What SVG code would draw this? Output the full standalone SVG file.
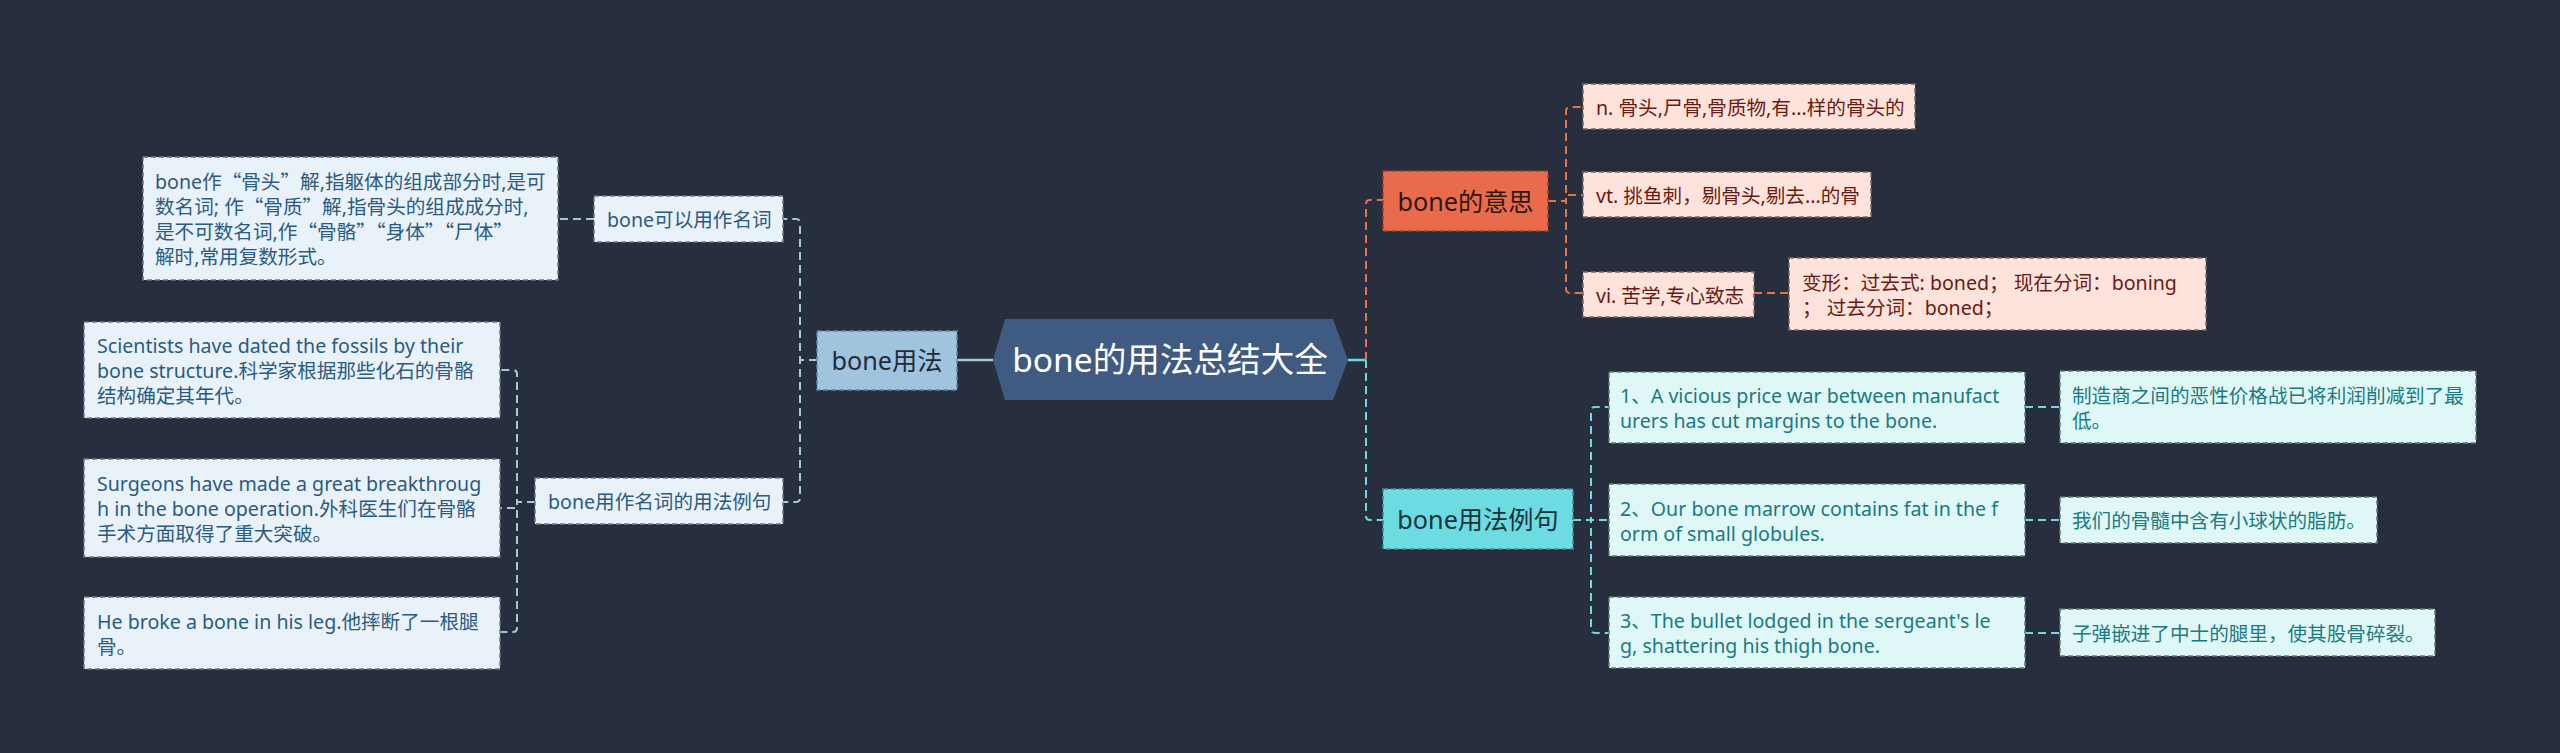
<svg xmlns="http://www.w3.org/2000/svg" width="2560" height="753" viewBox="0 0 2560 753">
<style>
text{font-family:"Noto Sans","Noto Sans CJK SC",sans-serif}
.cj{font-family:"Noto Sans CJK SC",sans-serif}
.c{fill:none;stroke-width:2;stroke-dasharray:8 5}
.s{fill:none;stroke-width:2.5}
.co{stroke:#e8714f}
.cc{stroke:#6fd8e0}
.cb{stroke:#a9c6dc}
.bx{stroke-width:1.5;stroke-dasharray:5 3}
.f20{font-size:19.6px}
.f25{font-size:25.2px}
.red{fill:#fde3dc;stroke:#7d6a66}
.redt{fill:#6a1a10}
.cyn{fill:#e0f7f7;stroke:#5f7a7c}
.cynt{fill:#1b7a7f}
.blu{fill:#e9f2f8;stroke:#6c7a86}
.blut{fill:#2b5a82}
</style>
<rect width="2560" height="753" fill="#272f3e"/>

<g id="connectors">
  <path class="s cc" d="M1348 360 H1366"/>
  <path class="c co" d="M1366 360 V204 Q1366 200 1370 200 H1383"/>
  <path class="c cc" d="M1366 360 V516 Q1366 520 1370 520 H1383"/>
  <path class="s cb" d="M957 360 H993"/>
  <path class="c co" d="M1548 201 H1566 V111 Q1566 107 1570 107 H1583"/>
  <path class="c co" d="M1548 201 H1566 V195 H1583"/>
  <path class="c co" d="M1548 201 H1566 V289 Q1566 293 1570 293 H1583"/>
  <path class="c co" d="M1754 293 H1789"/>
  <path class="c cc" d="M1573 520 H1591 V411 Q1591 407 1595 407 H1609"/>
  <path class="c cc" d="M1573 520 H1609"/>
  <path class="c cc" d="M1573 520 H1591 V629 Q1591 633 1595 633 H1609"/>
  <path class="c cc" d="M2025 407 H2060"/>
  <path class="c cc" d="M2025 520 H2060"/>
  <path class="c cc" d="M2025 633 H2060"/>
  <path class="c cb" d="M817 360 H800 V223 Q800 219 796 219 H783"/>
  <path class="c cb" d="M817 360 H800 V498 Q800 502 796 502 H783"/>
  <path class="c cb" d="M594 219 H558"/>
  <path class="c cb" d="M535 502 H517 V374 Q517 370 513 370 H500"/>
  <path class="c cb" d="M535 502 H517 V508 H500"/>
  <path class="c cb" d="M535 502 H517 V628 Q517 632 513 632 H500"/>
</g>

<g id="root">
  <polygon points="993,360 1005,319 1333,319 1348,360 1333,400 1005,400" fill="#3f5b82"/>
  <text x="1170" y="372" font-size="33.6" fill="#ffffff" text-anchor="middle">bone的用法总结大全</text>
</g>

<g id="meaning">
  <rect x="1383" y="171" width="165" height="60" fill="#ea6b4c" stroke="#9c3f28" class="bx"/>
  <text x="1465.5" y="210.5" class="f25" fill="#2e1710" text-anchor="middle">bone的意思</text>
</g>
<g id="m-n">
  <rect x="1583" y="84" width="332" height="45" class="red bx"/>
  <text x="1596" y="115" class="f20 redt">n. 骨头,尸骨,骨质物,有...样的骨头的</text>
</g>
<g id="m-vt">
  <rect x="1583" y="172" width="288" height="45" class="red bx"/>
  <text x="1596" y="203" class="f20 redt">vt. 挑鱼刺，剔骨头,剔去...的骨</text>
</g>
<g id="m-vi">
  <rect x="1583" y="272" width="171" height="45" class="red bx"/>
  <text x="1596" y="303" class="f20 redt">vi. 苦学,专心致志</text>
</g>
<g id="m-forms">
  <rect x="1789" y="258" width="417" height="72" class="red bx"/>
  <text class="f20 redt"><tspan x="1802" y="290">变形：过去式: boned； 现在分词：boning</tspan><tspan x="1802" y="315">； 过去分词：boned；</tspan></text>
</g>

<g id="examples">
  <rect x="1383" y="489" width="190" height="60" fill="#6ddbe2" stroke="#3a8f96" class="bx"/>
  <text x="1478" y="528.5" class="f25" fill="#17343a" text-anchor="middle">bone用法例句</text>
</g>
<g id="ex1">
  <rect x="1609" y="372" width="416" height="71" class="cyn bx"/>
  <text class="f20 cynt"><tspan x="1620" y="403">1、A vicious price war between manufact</tspan><tspan x="1620" y="428">urers has cut margins to the bone.</tspan></text>
</g>
<g id="ex2">
  <rect x="1609" y="484" width="416" height="72" class="cyn bx"/>
  <text class="f20 cynt"><tspan x="1620" y="515.5">2、Our bone marrow contains fat in the f</tspan><tspan x="1620" y="540.5">orm of small globules.</tspan></text>
</g>
<g id="ex3">
  <rect x="1609" y="597" width="416" height="71" class="cyn bx"/>
  <text class="f20 cynt"><tspan x="1620" y="628">3、The bullet lodged in the sergeant's le</tspan><tspan x="1620" y="653">g, shattering his thigh bone.</tspan></text>
</g>
<g id="tr1">
  <rect x="2060" y="371" width="416" height="72" class="cyn bx"/>
  <text class="f20 cynt"><tspan x="2072" y="402.5">制造商之间的恶性价格战已将利润削减到了最</tspan><tspan x="2072" y="427.5">低。</tspan></text>
</g>
<g id="tr2">
  <rect x="2060" y="497" width="317" height="46" class="cyn bx"/>
  <text x="2072" y="528" class="f20 cynt">我们的骨髓中含有小球状的脂肪。</text>
</g>
<g id="tr3">
  <rect x="2060" y="609" width="375" height="47" class="cyn bx"/>
  <text x="2072" y="640.5" class="f20 cynt">子弹嵌进了中士的腿里，使其股骨碎裂。</text>
</g>

<g id="usage">
  <rect x="817" y="331" width="140" height="59" fill="#a0c4de" stroke="#5f87a6" class="bx"/>
  <text x="887" y="370" class="f25" fill="#1d2b3a" text-anchor="middle">bone用法</text>
</g>
<g id="noun">
  <rect x="594" y="196" width="189" height="46" class="blu bx"/>
  <text x="607" y="227" class="f20 blut">bone可以用作名词</text>
</g>
<g id="noun-desc">
  <rect x="143" y="157" width="415" height="123" class="blu bx"/>
  <text class="f20 blut"><tspan x="155" y="189">bone作<tspan class="cj">“</tspan>骨头<tspan class="cj">”</tspan>解,指躯体的组成部分时,是可</tspan><tspan x="155" y="214">数名词; 作<tspan class="cj">“</tspan>骨质<tspan class="cj">”</tspan>解,指骨头的组成成分时,</tspan><tspan x="155" y="239">是不可数名词,作<tspan class="cj">“</tspan>骨骼<tspan class="cj">”“</tspan>身体<tspan class="cj">”“</tspan>尸体<tspan class="cj">”</tspan></tspan><tspan x="155" y="264">解时,常用复数形式。</tspan></text>
</g>
<g id="noun-ex">
  <rect x="535" y="478" width="248" height="46" class="blu bx"/>
  <text x="548" y="509" class="f20 blut">bone用作名词的用法例句</text>
</g>
<g id="nex1">
  <rect x="84" y="322" width="416" height="96" class="blu bx"/>
  <text class="f20 blut"><tspan x="97" y="353">Scientists have dated the fossils by their</tspan><tspan x="97" y="378">bone structure.科学家根据那些化石的骨骼</tspan><tspan x="97" y="403">结构确定其年代。</tspan></text>
</g>
<g id="nex2">
  <rect x="84" y="459" width="416" height="98" class="blu bx"/>
  <text class="f20 blut"><tspan x="97" y="491">Surgeons have made a great breakthroug</tspan><tspan x="97" y="516">h in the bone operation.外科医生们在骨骼</tspan><tspan x="97" y="541">手术方面取得了重大突破。</tspan></text>
</g>
<g id="nex3">
  <rect x="84" y="597" width="416" height="72" class="blu bx"/>
  <text class="f20 blut"><tspan x="97" y="628.5">He broke a bone in his leg.他摔断了一根腿</tspan><tspan x="97" y="653.5">骨。</tspan></text>
</g>
</svg>
